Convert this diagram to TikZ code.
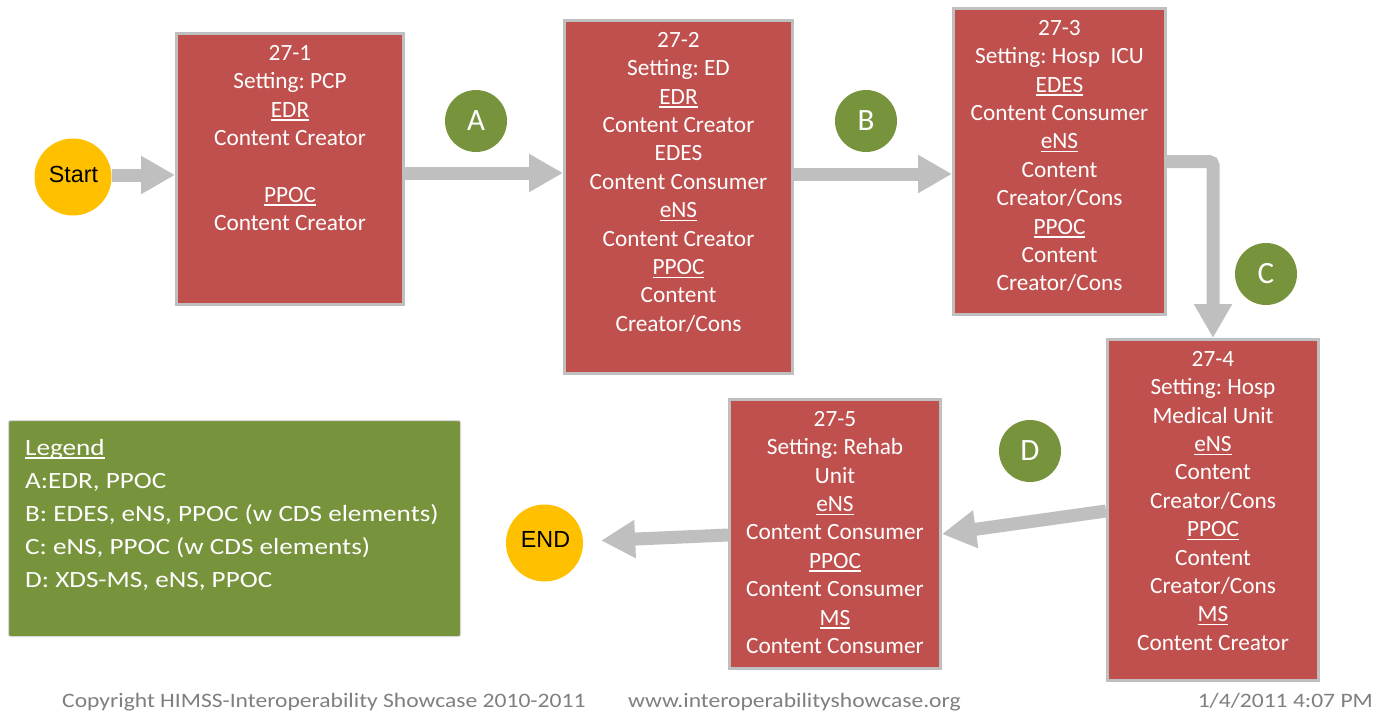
\documentclass[tikz,border=0pt]{standalone}
\usepackage{fontspec}
\setmainfont{Carlito}
\newfontfamily\arialf{Liberation Sans}
\newfontfamily\legfont[FakeStretch=1.165]{Carlito}
\newfontfamily\footfont[FakeStretch=1.15]{Carlito}
\usetikzlibrary{arrows.meta}
\definecolor{boxred}{HTML}{C0504D}
\definecolor{boxgray}{HTML}{BFBFBF}
\definecolor{arrgray}{HTML}{BFBFBF}
\definecolor{lgreen}{HTML}{77933C}
\definecolor{sunny}{HTML}{FFC000}
\definecolor{footgray}{HTML}{7F7F7F}
\newcommand\myul[1]{\leavevmode\setbox0\hbox{#1}\rlap{\rule[-3.5pt]{\wd0}{1.4pt}}\box0}
\newcommand\firststrut{\rule{0pt}{20pt}}
\frenchspacing
\begin{document}
\begin{tikzpicture}[x=1pt,y=-1pt,
  stepbox/.style={rectangle, draw=boxgray, line width=3pt, fill=boxred, inner sep=0pt},
  boxtext/.style={anchor=north, inner sep=0pt, align=center, text=white, font=\fontsize{23.3}{28.4}\selectfont},
  marker/.style={circle, fill=lgreen, minimum size=62pt, inner sep=0pt, text=white, font=\fontsize{31}{36}\selectfont},
  terminal/.style={circle, fill=sunny, minimum size=77pt, inner sep=0pt},
  termtext/.style={anchor=base, inner sep=0pt, text=black, font=\arialf\fontsize{23.3}{28}\selectfont},
  flow/.style={draw=arrgray, line width=13pt, -{Triangle[length=34pt,width=36pt]}},
  foot/.style={inner sep=0pt, text=footgray, font=\footfont\fontsize{20.5}{24}\selectfont}]
\useasboundingbox (0,0) rectangle (1377,712);
\fill[white] (0,0) rectangle (1377,712);

% boxes
\node[stepbox, minimum width=227pt, minimum height=271pt] (b1) at (290,169) {};
\node[stepbox, minimum width=228pt, minimum height=353pt] (b2) at (678.5,197) {};
\node[stepbox, minimum width=212pt, minimum height=306pt] (b3) at (1059.5,161.5) {};
\node[stepbox, minimum width=211pt, minimum height=341pt] (b4) at (1213,510) {};
\node[stepbox, minimum width=211pt, minimum height=269pt] (b5) at (835,534) {};

\node[boxtext] (t1) at ([yshift=-8pt]b1.north) {\firststrut 27-1\\Setting: PCP\\\myul{EDR}\\Content Creator\\\mbox{}\\\myul{PPOC}\\Content Creator};
\node[boxtext] (t2) at ([yshift=-8pt]b2.north) {\firststrut 27-2\\Setting: ED\\\myul{EDR}\\Content Creator\\EDES\\Content Consumer\\\myul{eNS}\\Content Creator\\\myul{PPOC}\\Content\\Creator/Cons};
\node[boxtext] (t3) at ([yshift=-8pt]b3.north) {\firststrut 27-3\\Setting: Hosp\ \ ICU\\\myul{EDES}\\Content Consumer\\\myul{eNS}\\Content\\Creator/Cons\\\myul{PPOC}\\Content\\Creator/Cons};
\node[boxtext] (t4) at ([yshift=-8pt]b4.north) {\firststrut 27-4\\Setting: Hosp\\Medical Unit\\\myul{eNS}\\Content\\Creator/Cons\\\myul{PPOC}\\Content\\Creator/Cons\\\myul{MS}\\Content Creator};
\node[boxtext] (t5) at ([yshift=-8pt]b5.north) {\firststrut 27-5\\Setting: Rehab\\Unit\\\myul{eNS}\\Content Consumer\\\myul{PPOC}\\Content Consumer\\\myul{MS}\\Content Consumer};

% legend
\node[rectangle, fill=lgreen, draw=black!15, line width=1pt, rounded corners=2pt, minimum width=452pt, minimum height=216pt, inner sep=0pt] (leg) at (234.5,528.5) {};
\node[anchor=north west, inner sep=0pt, align=left, text=white, font=\legfont\fontsize{23.3}{33}\selectfont] (legt) at (25,435) {\firststrut\myul{Legend}\\A:EDR, PPOC\\B: EDES, eNS, PPOC (w CDS elements)\\C: eNS, PPOC (w CDS elements)\\D: XDS-MS, eNS, PPOC};

% terminals
\node[terminal] (startn) at (73,177) {};
\node[termtext] (startl) at (73.5,182) {Start};
\node[terminal] (endn) at (544.5,543) {};
\node[termtext] (endl) at (545.5,547) {END};

% flow arrows
\draw[flow] ([yshift=2pt]startn.east) -- ([yshift=-6pt]b1.west);
\draw[flow] ([yshift=-4pt]b1.east) -- ([yshift=24pt]b2.west);
\draw[flow] ([yshift=23pt]b2.east) -- ([yshift=-12.5pt]b3.west);
\draw[flow, rounded corners=4pt] (b3.east) -| (b4.north);
\draw[flow] ([yshift=-1pt]b4.west) -- (b5.east);
\draw[flow, shorten >=18pt] ([yshift=-1pt]b5.west) -- (endn);

% markers
\node[marker] (ma) at (476,121) {A};
\node[marker] (mb) at (866,121) {B};
\node[marker] (mc) at (1266,274) {C};
\node[marker] (md) at (1030,451) {D};

% footer
\node[foot, anchor=base west] (copy) at (62,707) {Copyright HIMSS-Interoperability Showcase 2010-2011};
\node[foot, anchor=base west] (web) at (628,707) {www.interoperabilityshowcase.org};
\node[foot, anchor=base east] (date) at (1373,707) {1/4/2011 4:07 PM};
\end{tikzpicture}
\end{document}
